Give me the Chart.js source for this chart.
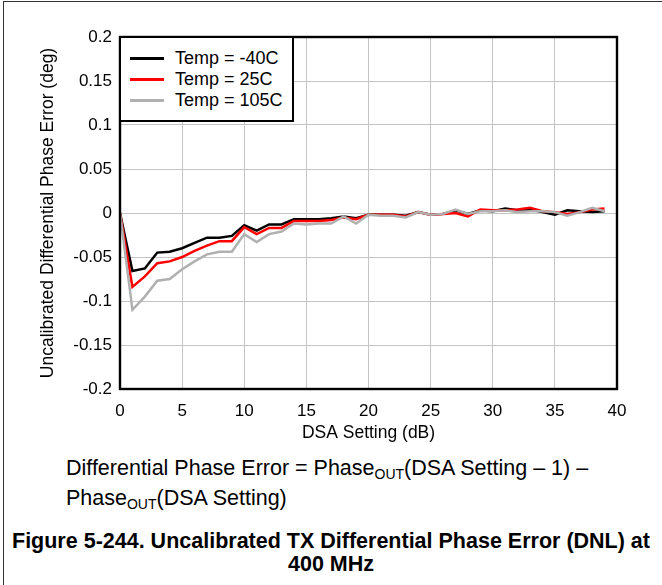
<!DOCTYPE html>
<html>
<head>
<meta charset="utf-8">
<script src="https://cdn.jsdelivr.net/npm/chart.js@4/dist/chart.umd.min.js"></script>
<style>
  html, body { margin: 0; padding: 0; background: #fff; }
  body { width: 662px; height: 585px; position: relative; overflow: hidden; font-family: "Liberation Sans", Arial, sans-serif; color: #000; }
  #frame { position: absolute; left: 3px; top: 1px; width: 700px; height: 700px; border-top: 1px solid #333; border-left: 1px solid #333; }
  #wrap { position: absolute; left: 0; top: 0; width: 662px; height: 450px; }
  #legend { position: absolute; left: 119px; top: 36px; width: 175px; height: 86px; box-sizing: border-box; border: 2px solid #000; background: #fff; }
  .li { position: absolute; left: 0; height: 22px; width: 175px; }
  .li .sw { position: absolute; left: 9px; top: 10px; width: 34px; height: 3px; }
  .li .tx { position: absolute; left: 54px; top: 0; font-size: 18px; line-height: 22px; white-space: nowrap; }
  .cap { position: absolute; font-size: 21.5px; line-height: 24px; white-space: nowrap; }
  .cap sub { font-size: 14px; vertical-align: -4px; line-height: 0; }
  .bold { position: absolute; left: 0; width: 662px; text-align: center; font-weight: bold; font-size: 21.5px; line-height: 24px; white-space: nowrap; }
</style>
</head>
<body>
<div id="frame"></div>
<div id="wrap"><canvas id="c" width="662" height="450"></canvas></div>
<div id="legend"></div>
<div class="cap" style="left:66px; top:456px;">Differential Phase Error = Phase<sub>OUT</sub>(DSA Setting – 1) –</div>
<div class="cap" style="left:66px; top:486px;">Phase<sub>OUT</sub>(DSA Setting)</div>
<div class="bold" style="top:529px;">Figure 5-244. Uncalibrated TX Differential Phase Error (DNL) at</div>
<div class="bold" style="top:552px;">400 MHz</div>
<script>
// ---- data ----
const dsaSetting = [0,1,2,3,4,5,6,7,8,9,10,11,12,13,14,15,16,17,18,19,20,21,22,23,24,25,26,27,28,29,30,31,32,33,34,35,36,37,38,39];
const seriesNames = ['Temp = -40C', 'Temp = 25C', 'Temp = 105C'];
const tempM40 = [0, -0.066, -0.063, -0.045, -0.044, -0.040, -0.034, -0.028, -0.028, -0.026, -0.014, -0.020, -0.013, -0.013, -0.007, -0.007, -0.007, -0.006, -0.004, -0.006, -0.002, -0.002, -0.002, -0.003, 0.001, -0.002, -0.001, 0.003, -0.001, 0.003, 0.002, 0.005, 0.003, 0.004, 0.001, -0.002, 0.003, 0.002, 0.001, 0.002];
const temp25 = [0, -0.084, -0.072, -0.057, -0.055, -0.050, -0.043, -0.037, -0.032, -0.032, -0.016, -0.024, -0.017, -0.017, -0.009, -0.009, -0.009, -0.008, -0.005, -0.007, -0.002, -0.002, -0.002, -0.004, 0.001, -0.002, -0.001, 0.000, -0.004, 0.004, 0.003, 0.003, 0.004, 0.006, 0.002, 0.001, -0.001, 0.001, 0.004, 0.005];
const temp105 = [0, -0.110, -0.095, -0.077, -0.075, -0.064, -0.055, -0.047, -0.044, -0.044, -0.024, -0.033, -0.024, -0.021, -0.012, -0.013, -0.012, -0.012, -0.004, -0.012, -0.002, -0.003, -0.003, -0.005, 0.001, -0.002, -0.001, 0.004, -0.001, 0.002, 0.002, 0.003, 0.001, 0.002, 0.002, 0.001, -0.003, 0.001, 0.006, 0.002];
const xTickLabels = ['0','5','10','15','20','25','30','35','40'];
const yTickLabels = ['-0.2','-0.15','-0.1','-0.05','0','0.05','0.1','0.15','0.2'];
const seriesColors = ['#000000', '#ff0000', '#b0b0b0'];

const allSeries = [tempM40, temp25, temp105];
const FONT = '"Liberation Sans", Arial, sans-serif';

// legend (HTML)
const lg = document.getElementById('legend');
seriesNames.forEach((n, i) => {
  const d = document.createElement('div');
  d.className = 'li';
  d.style.top = (9 + i * 21) + 'px';
  d.innerHTML = '<div class="sw" style="background:' + seriesColors[i] + '"></div><div class="tx"></div>';
  d.querySelector('.tx').textContent = n;
  lg.appendChild(d);
});

const borderPlugin = {
  id: 'areaBorder',
  afterDraw(chart) {
    const {ctx, chartArea: a} = chart;
    ctx.save();
    ctx.strokeStyle = '#000';
    ctx.lineWidth = 2.4;
    ctx.strokeRect(a.left, a.top, a.right - a.left, a.bottom - a.top);
    ctx.restore();
  }
};

new Chart(document.getElementById('c'), {
  type: 'line',
  data: {
    datasets: allSeries.map((s, i) => ({
      label: seriesNames[i],
      data: s.map((v, k) => ({x: dsaSetting[k], y: v})),
      borderColor: seriesColors[i],
      backgroundColor: seriesColors[i],
      borderWidth: 2.5,
      pointRadius: 0,
      tension: 0,
      order: 2 - i
    }))
  },
  options: {
    responsive: false,
    animation: false,
    devicePixelRatio: 1,
    layout: { padding: { top: 37, right: 45, left: 0, bottom: 0 } },
    plugins: { legend: { display: false }, tooltip: { enabled: false } },
    scales: {
      x: {
        type: 'linear', min: 0, max: 40,
        afterFit(s) { s.height = 61; },
        ticks: {
          stepSize: 5, padding: 12, color: '#000', maxRotation: 0,
          font: { family: FONT, size: 17 },
          callback: (v) => xTickLabels[Math.round(v / 5)]
        },
        grid: { color: '#c4c4c4', lineWidth: 1, drawTicks: false, tickLength: 0 },
        border: { display: false },
        title: { display: true, text: 'DSA Setting (dB)', color: '#000', font: { family: FONT, size: 17.5 }, padding: { top: 0, bottom: 6 } }
      },
      y: {
        type: 'linear', min: -0.2, max: 0.2,
        afterFit(s) { s.width = 120; },
        ticks: {
          stepSize: 0.05, padding: 8, color: '#000',
          font: { family: FONT, size: 17 },
          callback: (v) => yTickLabels[Math.round((v + 0.2) / 0.05)]
        },
        grid: { color: '#c4c4c4', lineWidth: 1, drawTicks: false, tickLength: 0 },
        border: { display: false },
        title: { display: true, text: 'Uncalibrated Differential Phase Error (deg)', color: '#000', font: { family: FONT, size: 17.5 }, padding: { top: 37.5, bottom: 0 } }
      }
    }
  },
  plugins: [borderPlugin]
});
</script>
</body>
</html>
